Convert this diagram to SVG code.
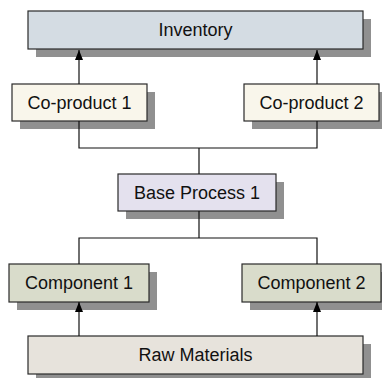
<svg xmlns="http://www.w3.org/2000/svg" width="382" height="378" viewBox="0 0 382 378">
<style>
.box{stroke:#2a2a2a;stroke-width:1.2}
.sh{fill:#909090}
.t{font-family:"Liberation Sans",Arial,sans-serif;font-size:18px;fill:#111;text-anchor:middle;dominant-baseline:central}
.c{fill:none;stroke:#111;stroke-width:1.2}
</style>
<defs>
<marker id="ah" viewBox="0 0 10 8" refX="10" refY="4" markerWidth="10" markerHeight="8" markerUnits="userSpaceOnUse" orient="auto">
<path d="M0,0 L10,4 L0,8 Z" fill="#000"/>
</marker>
</defs>
<rect width="382" height="378" fill="#fff"/>
<g id="inventory">
<rect class="sh" x="36" y="19" width="335" height="38"/>
<rect class="box" x="28" y="11" width="335" height="38" fill="#d4dce3"/>
<text class="t" x="195.5" y="30">Inventory</text>
</g>
<g id="coproduct1">
<rect class="sh" x="20" y="92" width="135" height="37"/>
<rect class="box" x="12" y="84" width="135" height="37" fill="#f9f6eb"/>
<text class="t" x="79.5" y="102.5">Co-product 1</text>
</g>
<g id="coproduct2">
<rect class="sh" x="252" y="92" width="135" height="37"/>
<rect class="box" x="244" y="84" width="135" height="37" fill="#f9f6eb"/>
<text class="t" x="311.5" y="102.5">Co-product 2</text>
</g>
<g id="baseprocess">
<rect class="sh" x="126" y="182" width="158" height="37"/>
<rect class="box" x="118" y="174" width="158" height="37" fill="#e4e1ee"/>
<text class="t" x="197" y="192.5">Base Process 1</text>
</g>
<g id="component1">
<rect class="sh" x="17" y="272" width="140" height="38"/>
<rect class="box" x="9" y="264" width="140" height="38" fill="#d9dccb"/>
<text class="t" x="79" y="283">Component 1</text>
</g>
<g id="component2">
<rect class="sh" x="250" y="272" width="140" height="38"/>
<rect class="box" x="242" y="264" width="139" height="38" fill="#d9dccb"/>
<text class="t" x="311.5" y="283">Component 2</text>
</g>
<g id="rawmaterials">
<rect class="sh" x="36" y="344" width="335" height="38"/>
<rect class="box" x="28" y="336" width="335" height="38" fill="#e7e3dc"/>
<text class="t" x="195.5" y="355">Raw Materials</text>
</g>
<g id="connectors">
<path class="c" d="M79,84 V50" marker-end="url(#ah)"/>
<path class="c" d="M317,84 V50" marker-end="url(#ah)"/>
<path class="c" d="M79,121 V148 H317 V121 M199,148 V174"/>
<path class="c" d="M199,211 V238 M79,264 V238 H317 V264"/>
<path class="c" d="M79,336 V302" marker-end="url(#ah)"/>
<path class="c" d="M317,336 V302" marker-end="url(#ah)"/>
</g>
</svg>
